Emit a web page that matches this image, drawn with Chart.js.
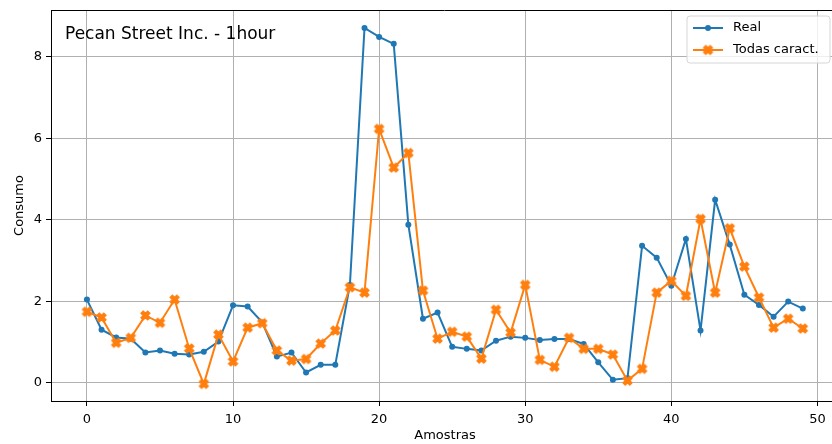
<!DOCTYPE html>
<html>
<head>
<meta charset="utf-8">
<script src="https://cdn.jsdelivr.net/npm/chart.js@4.4.0/dist/chart.umd.min.js"></script>
<style>
    html, body { margin: 0; padding: 0; background: #fff; overflow: hidden; }
    #wrap { width: 832px; height: 444px; overflow: hidden; }
</style>
</head>
<body>
<div id="wrap"><canvas id="line-chart" width="838" height="444"></canvas></div>
<script>
let amostras = [0, 1, 2, 3, 4, 5, 6, 7, 8, 9, 10, 11, 12, 13, 14, 15, 16, 17, 18, 19,
    20, 21, 22, 23, 24, 25, 26, 27, 28, 29, 30, 31, 32, 33, 34, 35, 36, 37, 38, 39,
    40, 41, 42, 43, 44, 45, 46, 47, 48, 49];

let real = [2.04, 1.30, 1.11, 1.08, 0.74, 0.79, 0.71, 0.69, 0.76, 1.01,
    1.90, 1.87, 1.48, 0.64, 0.74, 0.25, 0.44, 0.44, 2.40, 8.71,
    8.49, 8.32, 3.88, 1.57, 1.72, 0.88, 0.83, 0.79, 1.03, 1.13,
    1.10, 1.05, 1.07, 1.07, 0.95, 0.50, 0.07, 0.11, 3.36, 3.07,
    2.38, 3.53, 1.28, 4.49, 3.39, 2.16, 1.91, 1.62, 1.99, 1.82];

let todasCaract = [1.74, 1.60, 0.98, 1.10, 1.65, 1.47, 2.04, 0.84, -0.03, 1.18,
    0.52, 1.35, 1.46, 0.79, 0.54, 0.58, 0.96, 1.28, 2.34, 2.21,
    6.23, 5.28, 5.64, 2.26, 1.08, 1.25, 1.13, 0.59, 1.79, 1.23,
    2.40, 0.56, 0.39, 1.10, 0.83, 0.83, 0.69, 0.05, 0.34, 2.21,
    2.50, 2.13, 4.02, 2.21, 3.79, 2.85, 2.09, 1.35, 1.57, 1.33];

let xTicks = [0, 10, 20, 30, 40, 50];
let yTicks = [0, 2, 4, 6, 8];

let blue = "#1f77b4";
let orange = "#ff7f0e";
let fontFam = "'DejaVu Sans', sans-serif";

// filled X marker like matplotlib 'X'
function makeX(size) {
    let c = document.createElement('canvas');
    c.width = size + 4;
    c.height = size + 4;
    let ctx = c.getContext('2d');
    let s = size / 4;
    let pts = [[-1, -2], [0, -1], [1, -2], [2, -1], [1, 0], [2, 1], [1, 2], [0, 1], [-1, 2], [-2, 1], [-1, 0], [-2, -1]];
    ctx.translate(c.width / 2, c.height / 2);
    ctx.beginPath();
    pts.forEach((p, i) => {
        if (i == 0) ctx.moveTo(p[0] * s, p[1] * s);
        else ctx.lineTo(p[0] * s, p[1] * s);
    });
    ctx.closePath();
    ctx.fillStyle = orange;
    ctx.fill();
    ctx.strokeStyle = orange;
    ctx.lineWidth = 1.2;
    ctx.lineJoin = "miter";
    ctx.stroke();
    return c;
}

let xMarker = makeX(9);

// no extra room for edge labels, the axes box is fixed
function noPadding(scale) {
    scale.paddingLeft = 0;
    scale.paddingRight = 0;
    scale.paddingTop = 0;
    scale.paddingBottom = 0;
}

let extras = {
    id: 'extras',
    afterDatasetsDraw(chart) {
        let ctx = chart.ctx;
        let a = chart.chartArea;
        ctx.save();

        // top + right spines (the right one is cut off by the window, like the original)
        ctx.strokeStyle = "#000";
        ctx.lineWidth = 1;
        ctx.beginPath();
        ctx.moveTo(a.left, a.top + 0.5);
        ctx.lineTo(a.right, a.top + 0.5);
        ctx.stroke();

        // annotation
        ctx.fillStyle = "#000";
        ctx.font = "17px " + fontFam;
        ctx.textAlign = "left";
        ctx.textBaseline = "middle";
        ctx.fillText("Pecan Street Inc. - 1hour", 65, 35);

        // axis titles
        ctx.font = "13px " + fontFam;
        ctx.textAlign = "center";
        ctx.fillText("Amostras", 445, 436);
        ctx.save();
        ctx.translate(20, (a.top + a.bottom) / 2);
        ctx.rotate(-Math.PI / 2);
        ctx.fillText("Consumo", 0, 0);
        ctx.restore();

        // legend
        let lx = 687, ly = 16, lw = 143, lh = 47, r = 3;
        ctx.beginPath();
        ctx.moveTo(lx + r, ly);
        ctx.lineTo(lx + lw - r, ly);
        ctx.quadraticCurveTo(lx + lw, ly, lx + lw, ly + r);
        ctx.lineTo(lx + lw, ly + lh - r);
        ctx.quadraticCurveTo(lx + lw, ly + lh, lx + lw - r, ly + lh);
        ctx.lineTo(lx + r, ly + lh);
        ctx.quadraticCurveTo(lx, ly + lh, lx, ly + lh - r);
        ctx.lineTo(lx, ly + r);
        ctx.quadraticCurveTo(lx, ly, lx + r, ly);
        ctx.closePath();
        ctx.fillStyle = "rgba(255,255,255,0.8)";
        ctx.fill();
        ctx.strokeStyle = "#d6d6d6";
        ctx.lineWidth = 1;
        ctx.stroke();

        let rows = [
            { label: "Real", color: blue, y: 28 },
            { label: "Todas caract.", color: orange, y: 50 }
        ];
        rows.forEach((row, i) => {
            ctx.strokeStyle = row.color;
            ctx.lineWidth = 2;
            ctx.beginPath();
            ctx.moveTo(693, row.y);
            ctx.lineTo(723, row.y);
            ctx.stroke();
            if (i == 0) {
                ctx.fillStyle = blue;
                ctx.beginPath();
                ctx.arc(708, row.y, 3, 0, Math.PI * 2);
                ctx.fill();
            } else {
                ctx.drawImage(xMarker, 708 - xMarker.width / 2, row.y - xMarker.height / 2);
            }
            ctx.fillStyle = "#000";
            ctx.font = "13px " + fontFam;
            ctx.textAlign = "left";
            ctx.textBaseline = "middle";
            ctx.fillText(row.label, 733, row.y);
        });

        ctx.restore();
    }
};

let lineChartEl = document.getElementById('line-chart');

let lineConfig = {
    type: "line",
    data: {
        datasets: [
            {
                label: "Todas caract.",
                data: amostras.map((x, i) => ({ x: x, y: todasCaract[i] })),
                borderColor: orange,
                backgroundColor: orange,
                borderWidth: 2,
                pointStyle: xMarker,
                pointRadius: 5,
                tension: 0,
                fill: false,
                order: 0
            },
            {
                label: "Real",
                data: amostras.map((x, i) => ({ x: x, y: real[i] })),
                borderColor: blue,
                backgroundColor: blue,
                borderWidth: 2,
                pointStyle: "circle",
                pointRadius: 3,
                pointBorderWidth: 0,
                tension: 0,
                fill: false,
                order: 1
            }
        ]
    },
    options: {
        responsive: false,
        animation: false,
        devicePixelRatio: 1,
        layout: {
            autoPadding: false,
            padding: { top: 10, right: 0, left: 0, bottom: 0 }
        },
        plugins: {
            legend: { display: false },
            tooltip: { enabled: false }
        },
        scales: {
            x: {
                type: "linear",
                min: -2.46,
                max: 51.41,
                afterBuildTicks: (scale) => {
                    scale.ticks = xTicks.map(v => ({ value: v }));
                },
                afterFit: (scale) => {
                    scale.height = 43;
                    noPadding(scale);
                },
                grid: {
                    color: "#b0b0b0",
                    lineWidth: 1,
                    tickColor: "#000",
                    tickLength: 5,
                    drawTicks: true
                },
                border: { display: true, color: "#000", width: 1 },
                ticks: {
                    color: "#000",
                    padding: 6,
                    maxRotation: 0,
                    font: { family: fontFam, size: 13 }
                }
            },
            y: {
                type: "linear",
                min: -0.45,
                max: 9.15,
                afterBuildTicks: (scale) => {
                    scale.ticks = yTicks.map(v => ({ value: v }));
                },
                afterFit: (scale) => {
                    scale.width = 51;
                    noPadding(scale);
                },
                grid: {
                    color: "#b0b0b0",
                    lineWidth: 1,
                    tickColor: "#000",
                    tickLength: 5,
                    drawTicks: true
                },
                border: { display: true, color: "#000", width: 1 },
                ticks: {
                    color: "#000",
                    padding: 4,
                    font: { family: fontFam, size: 13 }
                }
            }
        }
    },
    plugins: [extras]
};

let lineChart = new Chart(lineChartEl, lineConfig);
</script>
</body>
</html>
